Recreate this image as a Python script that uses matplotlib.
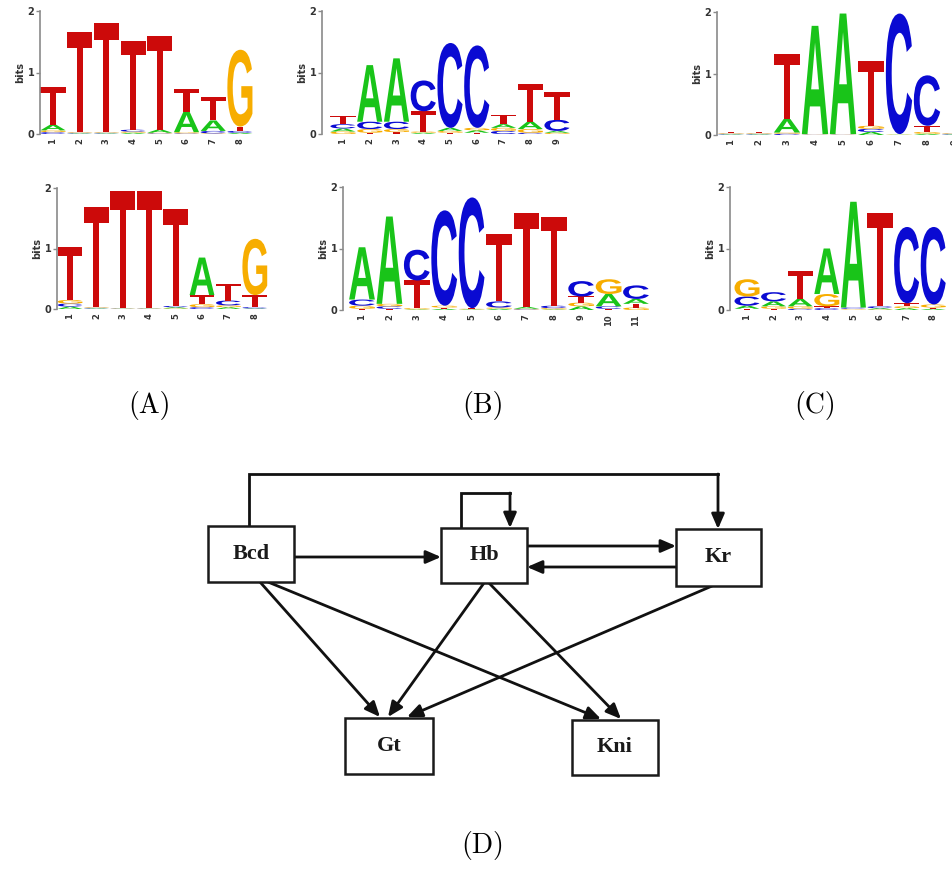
import matplotlib
matplotlib.use('Agg')
import matplotlib.pyplot as plt
from matplotlib.textpath import TextPath
from matplotlib.font_manager import FontProperties
from matplotlib.patches import PathPatch, Rectangle
from matplotlib.transforms import Affine2D

# ---------------- data ----------------
LETTERS = ['A', 'C', 'G', 'T']

# logo (A) top, heights in bits per position
logoA_top = {
    'A': [0.09, 0.01, 0.01, 0.02, 0.05, 0.33, 0.17, 0.02],
    'C': [0.03, 0.01, 0.01, 0.03, 0.01, 0.01, 0.04, 0.03],
    'G': [0.03, 0.01, 0.01, 0.02, 0.01, 0.02, 0.01, 1.25],
    'T': [0.62, 1.63, 1.78, 1.45, 1.52, 0.37, 0.38, 0.07],
}
logoA_bot = {
    'A': [0.04, 0.01, 0.005, 0.005, 0.02, 0.62, 0.03, 0.01],
    'C': [0.05, 0.01, 0.005, 0.005, 0.02, 0.03, 0.08, 0.02],
    'G': [0.06, 0.01, 0.005, 0.005, 0.01, 0.05, 0.03, 0.93],
    'T': [0.87, 1.66, 1.93, 1.93, 1.60, 0.15, 0.28, 0.20],
}
logoB_top = {
    'A': [0.05, 0.92, 1.03, 0.02, 0.05, 0.04, 0.06, 0.12, 0.03],
    'C': [0.07, 0.12, 0.12, 0.50, 1.38, 1.34, 0.05, 0.02, 0.18],
    'G': [0.04, 0.06, 0.05, 0.02, 0.03, 0.04, 0.05, 0.06, 0.02],
    'T': [0.14, 0.02, 0.03, 0.33, 0.02, 0.02, 0.15, 0.62, 0.45],
}
logoB_bot = {
    'A': [0.85, 1.42, 0.01, 0.02, 0.01, 0.02, 0.03, 0.01, 0.06, 0.20, 0.08],
    'C': [0.10, 0.04, 0.50, 1.55, 1.80, 0.10, 0.01, 0.04, 0.25, 0.04, 0.22],
    'G': [0.05, 0.04, 0.02, 0.03, 0.01, 0.02, 0.01, 0.02, 0.06, 0.24, 0.04],
    'T': [0.02, 0.02, 0.45, 0.02, 0.01, 1.10, 1.52, 1.45, 0.10, 0.02, 0.06],
}
logoC_top = {
    'A': [0.01, 0.01, 0.22, 1.76, 1.96, 0.05, 0.005, 0.02, 0.01],
    'C': [0.01, 0.01, 0.02, 0.005, 0.005, 0.05, 1.96, 0.82, 0.01],
    'G': [0.01, 0.01, 0.02, 0.005, 0.005, 0.05, 0.005, 0.03, 0.01],
    'T': [0.02, 0.02, 1.05, 0.005, 0.005, 1.05, 0.005, 0.10, 0.02],
}
logoC_bot = {
    'A': [0.05, 0.08, 0.12, 0.74, 1.72, 0.02, 0.03, 0.02],
    'C': [0.15, 0.15, 0.02, 0.03, 0.02, 0.03, 1.24, 1.26],
    'G': [0.28, 0.04, 0.04, 0.20, 0.01, 0.01, 0.03, 0.05],
    'T': [0.02, 0.02, 0.45, 0.03, 0.01, 1.52, 0.05, 0.02],
}

panel_labels = ['(A)', '(B)', '(C)', '(D)']
genes = ['Bcd', 'Hb', 'Kr', 'Gt', 'Kni']
edges = [('Bcd', 'Hb'), ('Hb', 'Kr'), ('Kr', 'Hb'), ('Bcd', 'Kr'), ('Hb', 'Hb'),
         ('Bcd', 'Gt'), ('Bcd', 'Kni'), ('Hb', 'Gt'), ('Hb', 'Kni'), ('Kr', 'Gt')]

# ---------------- style ----------------
W, H = 953, 869
fig = plt.figure(figsize=(W / 100, H / 100), dpi=100)
COLORS = {'A': '#19c419', 'C': '#0a0ad2', 'G': '#f7ad00', 'T': '#cc0a0a'}
letter_fp = FontProperties(family='Liberation Sans', weight='bold')


def draw_letter(ax, L, x, y, w, h):
    if h <= 0:
        return
    tp = TextPath((0, 0), L, size=1, prop=letter_fp)
    bb = tp.get_extents()
    t = (Affine2D().translate(-bb.x0, -bb.y0)
         .scale(w / bb.width, h / bb.height)
         .translate(x - w / 2, y))
    ax.add_patch(PathPatch(t.transform_path(tp), facecolor=COLORS[L],
                           edgecolor='none'))


def draw_logo(spine_x, pos1_x, spacing, y0_px, y2_px, data):
    n = len(data['A'])
    right_x = pos1_x + (n - 0.5) * spacing
    ax = fig.add_axes([spine_x / W, 1 - y0_px / H, (right_x - spine_x) / W,
                       (y0_px - y2_px) / H])
    ax.set_xlim(1 - (pos1_x - spine_x) / spacing, n + 0.5)
    ax.set_ylim(0, 2)
    for i in range(n):
        stack = sorted((data[L][i], L) for L in LETTERS)
        base = 0.0
        for h, L in stack:
            draw_letter(ax, L, i + 1, base, 0.94, h)
            base += h
    for s in ['top', 'right', 'bottom']:
        ax.spines[s].set_visible(False)
    ax.spines['left'].set_color('#8a8a8a')
    ax.spines['left'].set_linewidth(1.2)
    ax.patch.set_alpha(0)
    ax.set_yticks([0, 1, 2])
    ax.set_yticklabels(['0', '1', '2'], fontsize=7, fontweight='bold',
                       color='#333333')
    ax.tick_params(axis='y', length=3, width=1, color='#8a8a8a', pad=1)
    ax.set_xticks(range(1, n + 1))
    ax.set_xticklabels([str(i) for i in range(1, n + 1)], rotation=90,
                       fontsize=6, fontweight='bold', color='#333333')
    ax.tick_params(axis='x', length=0, pad=3)
    ax.set_ylabel('bits', fontsize=7, fontweight='bold', color='#333333',
                  labelpad=2)
    return ax


draw_logo(40, 53, 26.7, 134, 11, logoA_top)
draw_logo(57, 70, 26.4, 309, 188, logoA_bot)
draw_logo(322, 343, 26.75, 134, 11, logoB_top)
draw_logo(343, 362, 27.4, 310, 187, logoB_bot)
draw_logo(717, 731, 28.0, 135, 12, logoC_top)
draw_logo(730, 747, 26.6, 310, 187, logoC_bot)

# ---------------- overlay for labels and network ----------------
ov = fig.add_axes([0, 0, 1, 1])
ov.set_xlim(0, W)
ov.set_ylim(H, 0)
ov.set_axis_off()

label_pos = [(150, 405), (483, 405), (815, 405), (483, 845)]
for lab, (x, y) in zip(panel_labels, label_pos):
    ov.text(x, y, lab, family='cmr10', fontsize=20, ha='center', va='center')

boxes = {
    'Bcd': (208, 526, 294, 582),
    'Hb': (441, 528, 527, 583),
    'Kr': (676, 529, 761, 586),
    'Gt': (345, 718, 433, 774),
    'Kni': (572, 720, 658, 775),
}
for g in genes:
    x0, y0, x1, y1 = boxes[g]
    ov.add_patch(Rectangle((x0, y0), x1 - x0, y1 - y0, facecolor='white',
                           edgecolor='#1a1a1a', lw=1.8, zorder=3))
    ov.text((x0 + x1) / 2, (y0 + y1) / 2, g, family='Liberation Serif',
            fontweight='bold', fontsize=16, ha='center', va='center',
            color='#1a1a1a', zorder=4)

LW = 2.0
ASTYLE = '-|>,head_length=0.6,head_width=0.26'


def arrow(p_from, p_to):
    ov.annotate('', xy=p_to, xytext=p_from,
                arrowprops=dict(arrowstyle=ASTYLE, lw=LW, color='#111111',
                                mutation_scale=15, shrinkA=0, shrinkB=0),
                zorder=2)


def polyline(pts):
    xs = [p[0] for p in pts]
    ys = [p[1] for p in pts]
    ov.plot(xs, ys, color='#111111', lw=LW, solid_joinstyle='miter', zorder=2)


# routes for each edge (layout only)
routes = {
    ('Bcd', 'Hb'): [(294, 557), (441, 557)],
    ('Hb', 'Kr'): [(527, 546), (676, 546)],
    ('Kr', 'Hb'): [(676, 567), (527, 567)],
    ('Bcd', 'Kr'): [(249, 526), (249, 474), (718, 474), (718, 529)],
    ('Hb', 'Hb'): [(461, 528), (461, 493), (510, 493), (510, 528)],
    ('Bcd', 'Gt'): [(260, 582), (380, 717)],
    ('Bcd', 'Kni'): [(268, 582), (601, 719)],
    ('Hb', 'Gt'): [(484, 583), (388, 717)],
    ('Hb', 'Kni'): [(489, 583), (621, 719)],
    ('Kr', 'Gt'): [(712, 586), (407, 717)],
}
for e in edges:
    pts = routes[e]
    if len(pts) > 2:
        polyline(pts[:-1])
    arrow(pts[-2], pts[-1])

fig.savefig('out.png', dpi=100)
